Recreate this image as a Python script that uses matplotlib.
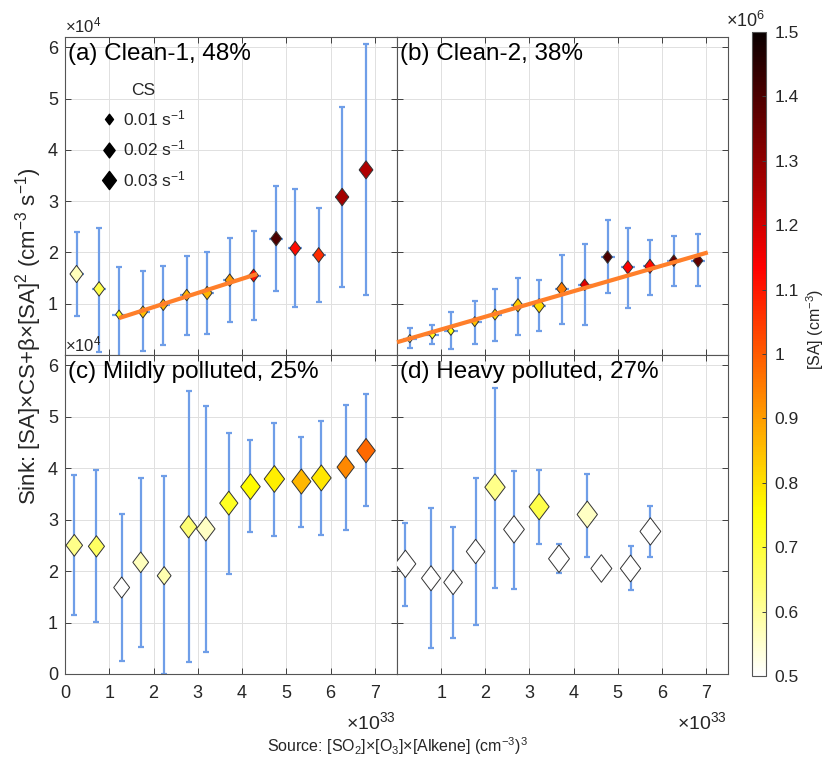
import numpy as np
import matplotlib
matplotlib.use('Agg')
import matplotlib.pyplot as plt
from matplotlib.path import Path
from matplotlib.lines import Line2D
from matplotlib.colors import Normalize
from matplotlib.cm import ScalarMappable

plt.rcParams['font.family'] = ['Liberation Sans', 'DejaVu Sans']
plt.rcParams['mathtext.fontset'] = 'custom'
plt.rcParams['mathtext.rm'] = 'Liberation Sans'
plt.rcParams['mathtext.it'] = 'Liberation Sans:italic'
plt.rcParams['mathtext.bf'] = 'Liberation Sans:bold'

# source (x1e33), sink (x1e4), error bar ends (x1e4), CS (s-1), [SA] (x1e6 cm-3)
a_x = [0.26, 0.77, 1.22, 1.76, 2.22, 2.75, 3.21, 3.72, 4.26, 4.77, 5.20, 5.73, 6.26, 6.80]
a_y = [1.58, 1.29, 0.79, 0.84, 0.98, 1.17, 1.21, 1.46, 1.55, 2.27, 2.08, 1.95, 3.08, 3.61]
a_hi = [2.39, 2.47, 1.71, 1.64, 1.74, 1.93, 2.01, 2.29, 2.42, 3.30, 3.23, 2.87, 4.83, 6.06]
a_lo = [0.77, 0.05, -0.15, 0.07, 0.19, 0.40, 0.41, 0.64, 0.69, 1.25, 0.94, 1.03, 1.32, 1.18]
a_cs = [0.027, 0.019, 0.0073, 0.013, 0.012, 0.012, 0.016, 0.014, 0.015, 0.019, 0.019, 0.020, 0.028, 0.030]
a_sa = [0.57, 0.68, 0.74, 0.85, 0.87, 0.87, 0.86, 0.90, 1.12, 1.40, 1.12, 1.07, 1.27, 1.25]
a_fit_x = [1.22, 4.34]
a_fit_y = [0.72, 1.58]

b_x = [0.29, 0.80, 1.22, 1.76, 2.22, 2.74, 3.22, 3.73, 4.25, 4.77, 5.23, 5.73, 6.27, 6.82]
b_y = [0.32, 0.40, 0.47, 0.65, 0.79, 0.97, 0.96, 1.29, 1.37, 1.91, 1.71, 1.73, 1.84, 1.84]
b_hi = [0.52, 0.58, 0.83, 1.06, 1.28, 1.51, 1.46, 1.96, 2.16, 2.64, 2.48, 2.25, 2.32, 2.36]
b_lo = [0.13, 0.22, 0.12, 0.21, 0.28, 0.40, 0.47, 0.60, 0.59, 1.21, 0.92, 1.17, 1.35, 1.35]
b_cs = [0.006, 0.007, 0.007, 0.009, 0.011, 0.016, 0.018, 0.016, 0.012, 0.014, 0.016, 0.018, 0.012, 0.015]
b_sa = [0.60, 0.72, 0.74, 0.84, 0.82, 0.83, 0.81, 0.95, 1.18, 1.40, 1.14, 1.12, 1.37, 1.37]
b_fit_x = [0.0, 7.04]
b_fit_y = [0.25, 2.0]

c_x = [0.21, 0.71, 1.28, 1.71, 2.24, 2.79, 3.18, 3.70, 4.19, 4.73, 5.34, 5.79, 6.34, 6.80]
c_y = [2.50, 2.48, 1.68, 2.17, 1.91, 2.86, 2.82, 3.32, 3.64, 3.79, 3.74, 3.81, 4.02, 4.34]
c_hi = [3.86, 3.96, 3.11, 3.80, 3.84, 5.50, 5.21, 4.69, 4.54, 4.88, 4.60, 4.91, 5.22, 5.44]
c_lo = [1.15, 1.01, 0.25, 0.52, 0.0, 0.23, 0.43, 1.94, 2.75, 2.68, 2.85, 2.70, 2.80, 3.26]
c_cs = [0.043, 0.041, 0.040, 0.039, 0.030, 0.045, 0.054, 0.052, 0.060, 0.065, 0.057, 0.061, 0.047, 0.054]
c_sa = [0.62, 0.66, 0.50, 0.57, 0.58, 0.64, 0.56, 0.72, 0.76, 0.78, 0.86, 0.79, 0.93, 0.98]

d_x = [0.19, 0.77, 1.27, 1.78, 2.22, 2.65, 3.22, 3.67, 4.31, 4.63, 5.29, 5.74]
d_y = [2.14, 1.86, 1.78, 2.38, 3.63, 2.81, 3.25, 2.24, 3.10, 2.05, 2.05, 2.77]
d_hi = [2.93, 3.22, 2.85, 3.80, 5.55, 3.95, 3.97, 2.52, 3.89, 2.15, 2.49, 3.26]
d_lo = [1.33, 0.50, 0.69, 0.96, 1.68, 1.66, 2.53, 1.96, 2.28, 1.95, 1.63, 2.28]
d_cs = [0.068, 0.057, 0.055, 0.054, 0.065, 0.068, 0.063, 0.069, 0.065, 0.069, 0.065, 0.068]
d_sa = [0.50, 0.50, 0.50, 0.50, 0.62, 0.50, 0.68, 0.50, 0.56, 0.50, 0.50, 0.50]

titles = ['(a) Clean-1, 48%', '(b) Clean-2, 38%',
          '(c) Mildly polluted, 25%', '(d) Heavy polluted, 27%']
legend_cs = [0.01, 0.02, 0.03]

SIZE_K = 5715.0        # marker area (pt^2) per unit CS
ERR_COLOR = '#6f9ee8'
FIT_COLOR = '#ff7f2a'
TXT = '#262626'

# matlab-style diamond, a bit taller than wide
diamond = Path([(0, 1), (0.76, 0), (0, -1), (-0.76, 0), (0, 1)],
               [Path.MOVETO, Path.LINETO, Path.LINETO, Path.LINETO, Path.CLOSEPOLY])

norm = Normalize(0.5, 1.5)
cmap = plt.get_cmap('hot_r')

fig = plt.figure(figsize=(8.28, 7.65), dpi=100)
fig.patch.set_facecolor('white')

ax_a = fig.add_axes([0.0785, 0.5359, 0.4010, 0.4157])
ax_b = fig.add_axes([0.4795, 0.5359, 0.3998, 0.4157])
ax_c = fig.add_axes([0.0785, 0.1190, 0.4010, 0.4170])
ax_d = fig.add_axes([0.4795, 0.1190, 0.3998, 0.4170])


def draw_panel(ax, x, y, lo, hi, cs, sa):
    x = np.asarray(x)
    y = np.asarray(y)
    yerr = [y - np.asarray(lo), np.asarray(hi) - y]
    ax.errorbar(x, y, yerr=yerr, fmt='none', ecolor=ERR_COLOR, elinewidth=1.6,
                capsize=2.5, capthick=1.6, zorder=2)
    # short horizontal tick at each mean, hidden behind the bigger diamonds
    ax.plot(x, y, ls='none', marker='_', ms=10, mew=1.6, color=ERR_COLOR, zorder=2.5)
    ax.scatter(x, y, s=SIZE_K * np.asarray(cs), c=sa, cmap=cmap, norm=norm,
               marker=diamond, edgecolors='#333333', linewidths=0.7, zorder=3)


def style_axes(ax, title, xlabels, ylabels):
    ax.set_xlim(0, 7.5)
    ax.set_ylim(0, 6.2)
    ax.set_xticks(range(8))
    ax.set_yticks(range(7))
    ax.set_xticklabels(xlabels)
    ax.set_yticklabels(ylabels)
    ax.grid(True, color='#e0e0e0', lw=0.7)
    ax.set_axisbelow(True)
    ax.tick_params(direction='in', top=True, right=True, length=4, width=0.7,
                   colors='#404040', labelcolor=TXT, labelsize=13)
    ax.tick_params(axis='x', pad=8)
    ax.tick_params(axis='y', pad=5)
    for sp in ax.spines.values():
        sp.set_color('#555555')
        sp.set_linewidth(0.8)
    ax.text(0.008, 0.982, title, transform=ax.transAxes, ha='left', va='top',
            fontsize=17.5, color='black', zorder=5)


draw_panel(ax_a, a_x, a_y, a_lo, a_hi, a_cs, a_sa)
ax_a.plot(a_fit_x, a_fit_y, color=FIT_COLOR, lw=3, zorder=4, solid_capstyle='butt')
draw_panel(ax_b, b_x, b_y, b_lo, b_hi, b_cs, b_sa)
ax_b.plot(b_fit_x, b_fit_y, color=FIT_COLOR, lw=3, zorder=4, solid_capstyle='butt',
          clip_on=False)
draw_panel(ax_c, c_x, c_y, c_lo, c_hi, c_cs, c_sa)
draw_panel(ax_d, d_x, d_y, d_lo, d_hi, d_cs, d_sa)

xt = [str(i) for i in range(8)]
yt = [str(i) for i in range(7)]
style_axes(ax_a, titles[0], [''] * 8, [''] + yt[1:])
style_axes(ax_b, titles[1], [''] * 8, [''] * 7)
style_axes(ax_c, titles[2], xt, yt)
style_axes(ax_d, titles[3], [''] + xt[1:], [''] * 7)

# CS size legend
handles = [Line2D([], [], ls='none', marker=diamond, ms=np.sqrt(SIZE_K * v),
                  mfc='black', mec='black') for v in legend_cs]
labels = ['%.2f s$^{-1}$' % v for v in legend_cs]
leg = ax_a.legend(handles, labels, title='CS', loc='upper left',
                  bbox_to_anchor=(0.07, 0.895), frameon=False, fontsize=12.5,
                  title_fontsize=12.5, handlelength=1.0, handletextpad=0.3,
                  labelspacing=0.62, borderpad=0.2)
for t in leg.get_texts():
    t.set_color(TXT)
leg.get_title().set_color(TXT)

# exponent labels
fig.text(0.0785, 0.957, r'$\times10^{4}$', fontsize=12, color=TXT, ha='left', va='baseline')
fig.text(0.0785, 0.540, r'$\times10^{4}$', fontsize=12, color=TXT, ha='left', va='baseline')
fig.text(0.478, 0.047, r'$\times10^{33}$', fontsize=14, color=TXT, ha='right', va='baseline')
fig.text(0.878, 0.047, r'$\times10^{33}$', fontsize=14, color=TXT, ha='right', va='baseline')

fig.text(0.480, 0.017, r'Source: [SO$_2$]×[O$_3$]×[Alkene] (cm$^{-3}$)$^3$',
         fontsize=11.5, color=TXT, ha='center', va='baseline')
fig.text(0.043, 0.340, r'Sink: [SA]×CS+β×[SA]$^2$ (cm$^{-3}$ s$^{-1}$)',
         fontsize=16, color=TXT, ha='left', va='baseline', rotation=90,
         rotation_mode='anchor')

# colorbar
cax = fig.add_axes([0.9082, 0.1163, 0.0169, 0.8418])
cb = fig.colorbar(ScalarMappable(norm=norm, cmap=cmap), cax=cax)
cb_ticks = np.round(np.arange(0.5, 1.51, 0.1), 1)
cb.set_ticks(cb_ticks)
cb.set_ticklabels(['%g' % v for v in cb_ticks])
cax.tick_params(direction='in', length=3, width=0.7, colors='#404040',
                labelcolor=TXT, labelsize=12.5, pad=6)
cb.outline.set_edgecolor('#555555')
cb.outline.set_linewidth(0.8)
fig.text(0.900, 0.965, r'$\times10^{6}$', fontsize=13, color=TXT, ha='center', va='baseline')
fig.text(0.985, 0.569, r'[SA] (cm$^{-3}$)', fontsize=11.5, color=TXT,
         ha='center', va='center', rotation=90)

fig.savefig('out.png', dpi=100, facecolor='white')
